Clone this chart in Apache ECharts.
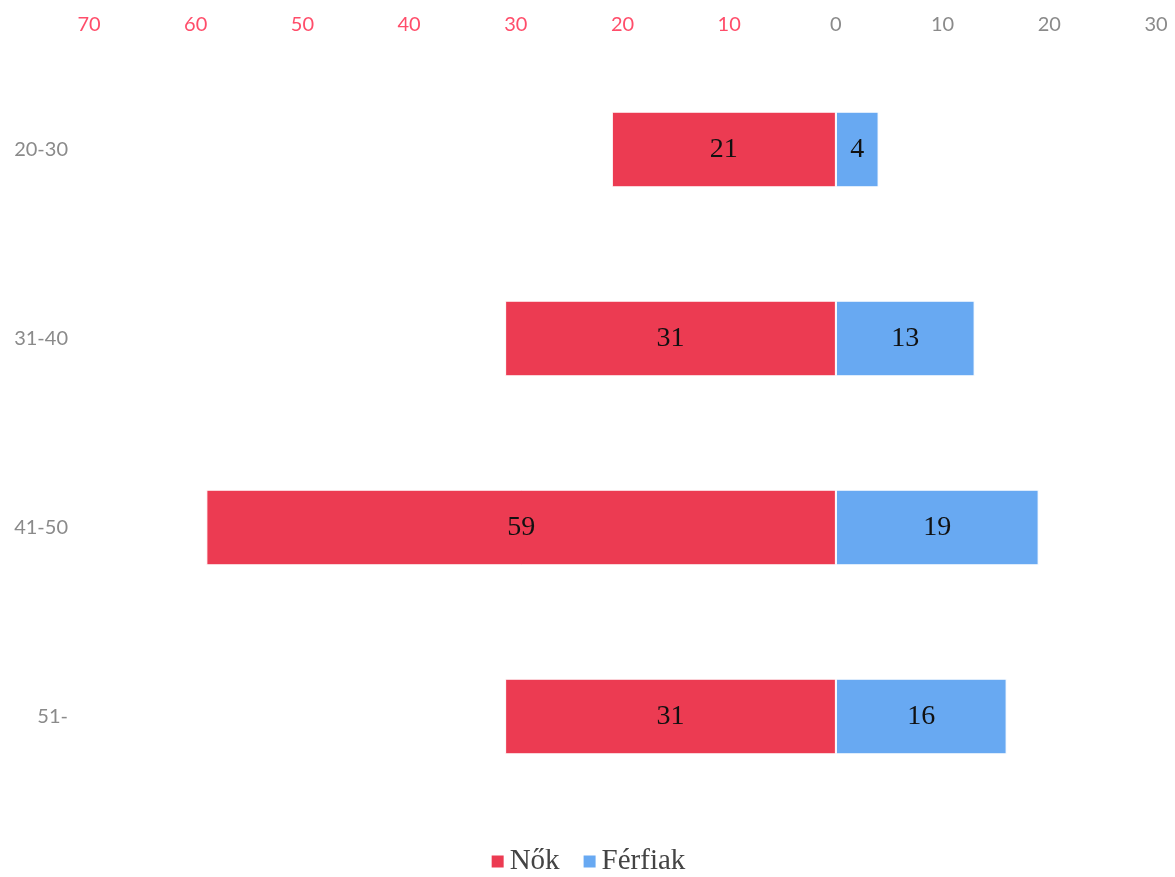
<!DOCTYPE html>
<html>
<head>
<meta charset="utf-8">
<script src="https://cdn.jsdelivr.net/npm/echarts@6/dist/echarts.min.js"></script>
<style>
  html, body { margin: 0; padding: 0; background: #fff; }
  #chart { width: 1175px; height: 877px; }
</style>
</head>
<body>
<div id="chart"></div>
<script>
// age groups, top to bottom
var ageGroups = ['20-30', '31-40', '41-50', '51-']
var women = [21, 31, 59, 31]
var men = [4, 13, 19, 16]

var chart = echarts.init(document.getElementById('chart'))

var option = {
  animation: false,
  backgroundColor: '#ffffff',
  grid: { left: 89, right: 19, top: 55, bottom: 66 },
  legend: {
    bottom: -4,
    left: 'center',
    itemWidth: 14,
    itemHeight: 14,
    itemGap: 22,
    icon: 'rect',
    textStyle: { fontFamily: 'Liberation Serif', fontSize: 29, color: '#444' },
    data: ['Nők', 'Férfiak']
  },
  xAxis: {
    type: 'value',
    position: 'top',
    min: -70,
    max: 30,
    interval: 10,
    axisLine: { show: false },
    axisTick: { show: false },
    splitLine: { show: false },
    axisLabel: {
      margin: 20,
      fontFamily: 'Lato',
      fontSize: 20,
      formatter: function (v) { return Math.abs(v) },
      color: function (v) { return v < 0 ? '#ff4d6a' : '#8a8a8a' }
    }
  },
  yAxis: {
    type: 'category',
    inverse: true,
    data: ageGroups,
    axisLine: { show: false },
    axisTick: { show: false },
    axisLabel: { margin: 21, fontFamily: 'Lato', fontSize: 20, color: '#8a8a8a' }
  },
  series: [
    {
      name: 'Nők',
      type: 'bar',
      barWidth: '40%',
      barGap: '-100%',
      data: women.map(function (v) { return -v }),
      itemStyle: { color: '#ec3b52', borderColor: '#fff', borderWidth: 1 },
      label: {
        show: true,
        position: 'inside',
        formatter: function (p) { return Math.abs(p.value) },
        fontFamily: 'Liberation Serif',
        fontSize: 28,
        color: '#111'
      }
    },
    {
      name: 'Férfiak',
      type: 'bar',
      barWidth: '40%',
      data: men,
      itemStyle: { color: '#68a9f2', borderColor: '#fff', borderWidth: 1 },
      label: {
        show: true,
        position: 'inside',
        fontFamily: 'Liberation Serif',
        fontSize: 28,
        color: '#111'
      }
    }
  ]
}

chart.setOption(option)
</script>
</body>
</html>
